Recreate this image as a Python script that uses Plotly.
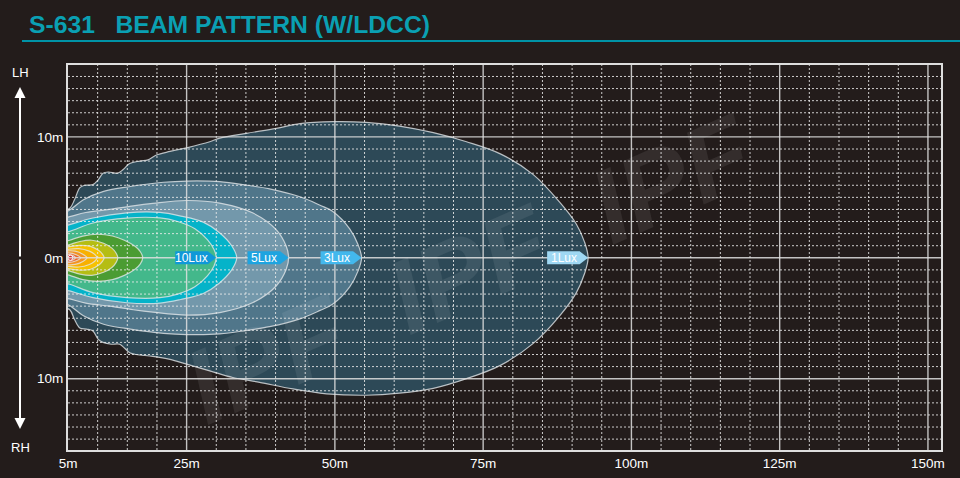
import plotly.graph_objects as go

# ---------------- data (metres) ----------------
x_ticks = [5, 25, 50, 75, 100, 125, 150]
x_tick_labels = ['5m', '25m', '50m', '75m', '100m', '125m', '150m']
y_ticks = [10, 0, -10]
y_tick_labels = ['10m', '0m', '10m']

x_major_grid = [25, 50, 75, 100, 125, 150]
x_minor_grid = [10, 15, 20, 30, 35, 40, 45, 55, 60, 65, 70, 80, 85, 90, 95,
                105, 110, 115, 120, 130, 135, 140, 145]
y_major_grid = [-10, 0, 10]
y_minor_grid = [v for v in range(-15, 16) if v not in (-10, 0, 10)]

# 1 Lux isoline (irregular: upper and lower edges read separately)
lux1_top_x = [3.0, 5.3, 6.1, 7.0, 7.8, 9.2, 10.1, 10.9, 11.8, 13.4, 14.3, 15.4, 17.1,
              18.5, 19.9, 22.2, 25.0, 28.9, 30.6, 35.1, 40.1, 44.1, 49.7, 55.3, 60.9,
              66.6, 72.2, 77.9, 83.4, 87.9, 90.7, 92.1, 92.7]
lux1_top_y = [3.6, 4.1, 4.8, 5.8, 6.0, 6.05, 6.45, 7.0, 7.1, 7.0, 7.3, 7.8, 8.0,
              8.1, 8.5, 8.8, 9.1, 9.6, 9.9, 10.3, 10.7, 11.1, 11.26, 11.2, 10.9,
              10.35, 9.6, 8.6, 6.9, 4.6, 2.8, 1.3, 0.0]
lux1_bot_x = [3.0, 5.3, 6.1, 7.0, 8.1, 9.2, 10.1, 10.9, 12.3, 13.7, 15.4, 16.5, 19.3,
              22.2, 25.0, 28.9, 32.8, 37.3, 42.9, 48.6, 55.3, 60.9, 66.6, 72.2, 77.9,
              83.4, 87.9, 90.7, 92.1]
lux1_bot_y = [-3.8, -4.3, -5.1, -5.8, -5.9, -6.05, -6.75, -7.0, -7.15, -7.15, -7.85, -8.0, -8.15,
              -8.4, -8.8, -9.35, -9.9, -10.3, -10.85, -11.25, -11.37, -11.2, -10.8, -10.0, -8.9,
              -7.1, -4.8, -2.9, -1.3]

# symmetric isolines: upper half profiles (distance, half width)
lux3_x = [3.0, 5.1, 7.6, 11.0, 15.5, 21.1, 25.0, 30.6, 35.2, 39.0, 44.1, 47.5, 49.6, 52.5, 53.9, 54.5]
lux3_y = [3.6, 3.9, 4.8, 5.5, 5.9, 6.25, 6.35, 6.3, 6.0, 5.7, 5.05, 4.35, 3.85, 2.4, 1.1, 0.0]

lux5_x = [3.0, 5.3, 8.0, 12.0, 16.0, 19.3, 25.0, 30.6, 36.2, 40.1, 41.8, 42.2]
lux5_y = [3.1, 3.4, 3.75, 4.0, 4.3, 4.5, 4.74, 4.53, 3.7, 2.33, 0.95, 0.0]

cyan_x = [3.0, 5.3, 9.2, 14.9, 20.5, 24.0, 27.8, 30.5, 32.6, 33.45]
cyan_y = [2.4, 2.74, 3.29, 3.72, 3.75, 3.45, 2.95, 2.1, 1.0, 0.0]

lux10_x = [3.0, 5.3, 9.2, 14.9, 20.5, 23.5, 26.4, 28.5, 29.6, 30.0]
lux10_y = [1.9, 2.19, 2.88, 3.29, 3.3, 3.0, 2.4, 1.5, 0.7, 0.0]

dgreen_x = [3.0, 5.3, 7.5, 10.0, 12.5, 14.5, 16.3, 17.2, 17.6]
dgreen_y = [1.1, 1.45, 1.8, 1.95, 1.8, 1.45, 0.95, 0.5, 0.0]

ygreen_x = [3.0, 5.3, 7.0, 9.0, 11.0, 12.4, 13.1, 13.4]
ygreen_y = [0.75, 1.1, 1.35, 1.45, 1.2, 0.8, 0.4, 0.0]

gold_x = [3.0, 5.0, 7.0, 8.8, 10.2, 10.8, 11.1]
gold_y = [0.6, 0.9, 1.03, 0.95, 0.6, 0.3, 0.0]

amber_x = [3.0, 5.0, 6.8, 8.6, 9.5, 9.9]
amber_y = [0.5, 0.7, 0.76, 0.55, 0.28, 0.0]

orange_x = [3.0, 4.5, 6.2, 7.5, 8.2]
orange_y = [0.35, 0.55, 0.55, 0.3, 0.0]

ored_x = [3.5, 5.0, 6.4, 7.1]
ored_y = [0.3, 0.4, 0.25, 0.0]

red_x = [4.5, 5.3, 5.9, 6.25]
red_y = [0.22, 0.26, 0.16, 0.0]

source_x = [5.4]
source_y = [0.0]

lux_labels = ['1Lux', '3Lux', '5Lux', '10Lux']

# ---------------- styles ----------------
BG = '#231c1b'
EDGE = 'rgba(228,232,234,0.78)'
FONT = 'Liberation Sans, Arial, sans-serif'


def mirror(xs, ys):
    px = list(xs) + list(xs[-2::-1])
    py = list(ys) + [-v for v in ys[-2::-1]]
    return px, py


def px_x(p):  # page pixel -> paper x
    return (p - 68) / 873


def px_y(p):  # page pixel -> paper y
    return (450 - p) / 385


fig = go.Figure()

levels = [
    (lux1_top_x + lux1_bot_x[::-1], lux1_top_y + lux1_bot_y[::-1], '#2d4957'),
    (*mirror(lux3_x, lux3_y), '#50768a'),
    (*mirror(lux5_x, lux5_y), '#7398ab'),
    (*mirror(cyan_x, cyan_y), '#05b3c9'),
    (*mirror(lux10_x, lux10_y), '#43b88b'),
    (*mirror(dgreen_x, dgreen_y), '#4b9c33'),
    (*mirror(ygreen_x, ygreen_y), '#b5bd14'),
    (*mirror(gold_x, gold_y), '#f6c200'),
    (*mirror(amber_x, amber_y), '#f8b000'),
    (*mirror(orange_x, orange_y), '#f39320'),
    (*mirror(ored_x, ored_y), '#ec6526'),
    (*mirror(red_x, red_y), '#e03a2b'),
]
for xs, ys, col in levels:
    fig.add_trace(go.Scatter(
        x=xs + [xs[0]], y=ys + [ys[0]], mode='lines', fill='toself', fillcolor=col,
        line=dict(color=EDGE, width=1.2, shape='spline', smoothing=1.0),
        hoverinfo='skip', showlegend=False))

fig.add_trace(go.Scatter(
    x=source_x, y=source_y, mode='markers',
    marker=dict(size=5, color='#d4202a', line=dict(color='#ffffff', width=1)),
    hoverinfo='skip', showlegend=False))

shapes = []
DOT = dict(color='rgba(235,235,235,0.85)', width=1, dash='2px,2px')
SOLID = dict(color='rgba(225,225,225,0.85)', width=1.4)
for v in x_minor_grid:
    shapes.append(dict(type='line', xref='x', yref='paper', x0=v, x1=v, y0=0, y1=1,
                       line=DOT, layer='above'))
for v in y_minor_grid:
    shapes.append(dict(type='line', xref='paper', yref='y', x0=0, x1=1, y0=v, y1=v,
                       line=DOT, layer='above'))
for v in x_major_grid:
    shapes.append(dict(type='line', xref='x', yref='paper', x0=v, x1=v, y0=0, y1=1,
                       line=SOLID, layer='above'))
for v in y_major_grid:
    shapes.append(dict(type='line', xref='paper', yref='y', x0=0, x1=1, y0=v, y1=v,
                       line=SOLID, layer='above'))

annotations = []

# faint diagonal brand watermark
annotations.append(dict(x=px_x(470), y=px_y(268), xref='paper', yref='paper',
                        xanchor='center', yanchor='middle', showarrow=False,
                        text='IPF\u00a0\u00a0IPF\u00a0\u00a0IPF', textangle=-24,
                        font=dict(size=105, color='rgba(255,255,255,0.08)', family=FONT,
                                  weight='bold', style='italic')))

# arrow-shaped lux labels pointing at each isoline's reach
label_tips = [max(lux1_top_x), max(lux3_x), max(lux5_x), max(lux10_x)]
label_cols = ['#9fd8f3', '#43b8ed', '#1ea4e0', '#0f98d8']
for name, tip, col in zip(lux_labels, label_tips, label_cols):
    shapes.append(dict(type='path', xref='x', yref='y', xsizemode='pixel', ysizemode='pixel',
                       xanchor=tip, yanchor=0,
                       path='M -41,-6.5 L -8.5,-6.5 L 0,0 L -8.5,6.5 L -41,6.5 Z',
                       fillcolor=col, line=dict(width=0), layer='above'))
    annotations.append(dict(x=tip, y=0, xref='x', yref='y', xshift=-24.5, text=name,
                            xanchor='center', yanchor='middle', showarrow=False,
                            font=dict(size=12, color='white', family=FONT)))

# title and underline
annotations.append(dict(x=px_x(27), y=px_y(24), xref='paper', yref='paper',
                        xanchor='left', yanchor='middle', showarrow=False,
                        text='S-631\u00a0\u00a0\u00a0BEAM PATTERN (W/LDCC)',
                        font=dict(size=24.7, color='#0aa0b3', family=FONT, weight='bold')))
shapes.append(dict(type='line', xref='paper', yref='paper',
                   x0=px_x(22), x1=px_x(962), y0=px_y(41), y1=px_y(41),
                   line=dict(color='#0093a7', width=2)))

# LH / RH side indicator
for txt, py in (('LH', 72), ('RH', 447)):
    annotations.append(dict(x=px_x(20), y=px_y(py), xref='paper', yref='paper',
                            xanchor='center', yanchor='middle', text=txt, showarrow=False,
                            font=dict(size=13, color='white', family=FONT)))
for tip_py, ay in ((87, 171), (429, -171)):
    annotations.append(dict(x=px_x(20), y=px_y(tip_py), xref='paper', yref='paper',
                            text='', showarrow=True, ax=0, ay=ay,
                            arrowhead=2, arrowsize=1.1, arrowwidth=2, arrowcolor='white',
                            standoff=0, startstandoff=0))

fig.update_layout(
    width=960, height=478, autosize=False,
    margin=dict(l=68, r=19, t=65, b=28, autoexpand=False),
    paper_bgcolor=BG, plot_bgcolor=BG,
    showlegend=False,
    shapes=shapes, annotations=annotations,
    xaxis=dict(range=[5, 152.2], tickvals=x_ticks, ticktext=x_tick_labels,
               showgrid=False, zeroline=False, ticks='', showline=True, mirror=True,
               linecolor='#dedede', linewidth=2, layer='above traces',
               automargin=False,
               tickfont=dict(size=13.5, color='white', family=FONT),
               fixedrange=True),
    yaxis=dict(range=[-15.9, 15.95], tickvals=y_ticks, ticktext=y_tick_labels,
               showgrid=False, zeroline=False, ticks='', showline=True, mirror=True,
               linecolor='#dedede', linewidth=2, layer='above traces',
               automargin=False,
               tickfont=dict(size=13.5, color='white', family=FONT),
               fixedrange=True),
)

fig.write_html('out.html',
               config={'displayModeBar': False, 'staticPlot': True},
               post_script="document.body.style.margin='0';"
                           "document.body.style.background='" + BG + "';")
